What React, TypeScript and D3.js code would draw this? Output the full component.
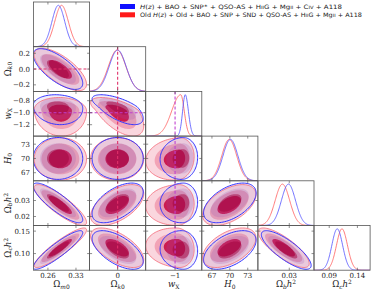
import React from 'react';
import * as d3 from 'd3';

const W = 374;
const H = 291;
const left = 33.5;
const top = 2;
const cellW = 56.1;
const cellH = 44.7;

// axis ranges of the six parameters: Om0, Ok0, wX, H0, Obh2, Och2
const domains: [number, number][] = [
  [0.224, 0.364],
  [-0.283, 0.283],
  [-1.39, -0.645],
  [65.3, 74.7],
  [0.0144, 0.0423],
  [0.063, 0.1625],
];

const xTickValues = [[0.26, 0.33], [0], [-1], [67, 70, 73], [0.03], [0.09, 0.14]];
const xTickLabels = [['0.26', '0.33'], ['0'], ['\u22121'], ['67', '70', '73'], ['0.03'], ['0.09', '0.14']];
const yTickValues = [[], [0.2, 0, -0.2], [-0.8, -1.0, -1.2], [73, 70, 67], [0.03, 0.02], [0.15, 0.1]];
const yTickLabels = [[], ['0.2', '0.0', '\u22120.2'], ['\u22120.8', '\u22121.0', '\u22121.2'], ['73', '70', '67'], ['0.03', '0.02'], ['0.15', '0.10']];

// 1D marginals: peak, spread below, spread above
const newMarg = [[0.286, 0.016, 0.016], [0.0, 0.085, 0.085], [-0.865, 0.035, 0.042], [70.1, 1.25, 1.25], [0.0296, 0.0035, 0.0035], [0.1042, 0.0095, 0.0095]];
const oldMarg = [[0.294, 0.017, 0.017], [-0.005, 0.088, 0.088], [-0.925, 0.12, 0.047], [69.9, 1.25, 1.25], [0.0266, 0.0036, 0.0036], [0.1126, 0.0097, 0.0097]];

// 2D contours: centre, spread below, spread above
const new2D = [[0.285, 0.018, 0.018], [0.0, 0.075, 0.075], [-0.9, 0.087, 0.058], [70.0, 1.28, 1.28], [0.0285, 0.0036, 0.0036], [0.108, 0.0125, 0.0125]];
const old2D = [[0.291, 0.019, 0.019], [-0.005, 0.078, 0.078], [-0.96, 0.125, 0.062], [69.9, 1.3, 1.3], [0.0272, 0.0037, 0.0037], [0.113, 0.0128, 0.0128]];

// correlations, corr[row][col] for row > col
const newCorr = [[], [-0.7], [-0.1, -0.65], [0, 0, 0.05], [-0.85, 0.55, 0.05, 0.5], [0.9, -0.6, -0.05, 0.5, -0.8]];
const oldCorr = [[], [-0.7], [-0.05, -0.6], [0, 0, 0.1], [-0.85, 0.55, 0.05, 0.5], [0.9, -0.6, -0.1, 0.5, -0.8]];

const levels = [3.44, 2.49, 1.52];
const oldFills = ['#fad6de', '#f2a3b6', '#d8103f'];
const newFills = ['#7a6ad0', '#9050b0', '#a0003c'];
const newOpac = [0.12, 0.2, 0.5];

const refLines = [{ p: 1, v: 0, color: '#e0306a' }, { p: 2, v: -1, color: '#c040d0' }];

type Part = { t: string; it?: boolean; sub?: boolean; sup?: boolean; small?: boolean };
const axisNames: Part[][] = [
  [{ t: '\u03A9' }, { t: 'm', it: true, sub: true }, { t: '0', sub: true }],
  [{ t: '\u03A9' }, { t: 'k', it: true, sub: true }, { t: '0', sub: true }],
  [{ t: 'w', it: true }, { t: 'X', sub: true }],
  [{ t: 'H', it: true }, { t: '0', sub: true }],
  [{ t: '\u03A9' }, { t: 'b', it: true, sub: true }, { t: 'h', it: true }, { t: '2', sup: true }],
  [{ t: '\u03A9' }, { t: 'c', it: true, sub: true }, { t: 'h', it: true }, { t: '2', sup: true }],
];

const legendNew: Part[] = [
  { t: 'H', it: true }, { t: '(' }, { t: 'z', it: true }, { t: ') + BAO + SNP' }, { t: '\u2217', sup: true },
  { t: ' + QSO-AS + H' }, { t: 'II', small: true }, { t: 'G + Mg' }, { t: 'II', small: true },
  { t: ' + C' }, { t: 'IV', small: true }, { t: ' + A118' },
];
const legendOld: Part[] = [
  { t: 'Old ' }, { t: 'H', it: true }, { t: '(' }, { t: 'z', it: true }, { t: ') + Old + BAO + SNP + SND + QSO-AS + H' },
  { t: 'II', small: true }, { t: 'G + Mg' }, { t: 'II', small: true }, { t: ' + A118' },
];

function Parts({ parts, size }: { parts: Part[]; size: number }) {
  let cur = 0;
  return (
    <>
      {parts.map((p, k) => {
        const want = p.sub ? size * 0.22 : p.sup ? -size * 0.32 : 0;
        const dy = want - cur;
        cur = want;
        return (
          <tspan
            key={k}
            dy={dy || undefined}
            fontStyle={p.it ? 'italic' : 'normal'}
            fontSize={p.sub || p.sup ? size * 0.7 : p.small ? size * 0.75 : size}
          >
            {p.t}
          </tspan>
        );
      })}
    </>
  );
}

const xScale = (i: number) => d3.scaleLinear().domain(domains[i]).range([left + i * cellW, left + (i + 1) * cellW]);
const yScale = (j: number) => d3.scaleLinear().domain(domains[j]).range([top + (j + 1) * cellH, top + j * cellH]);

function contourPath(stats: number[][], i: number, j: number, rho: number, r: number) {
  const xs = xScale(i);
  const ys = yScale(j);
  const [mx, lx, hx] = stats[i];
  const [my, ly, hy] = stats[j];
  const pts = d3.range(0, 96).map((k) => {
    const t = (k / 96) * 2 * Math.PI;
    const a = Math.cos(t);
    const b = rho * a + Math.sqrt(1 - rho * rho) * Math.sin(t);
    return [xs(mx + r * a * (a < 0 ? lx : hx)), ys(my + r * b * (b < 0 ? ly : hy))] as [number, number];
  });
  return d3.line().curve(d3.curveLinearClosed)(pts) || '';
}

function marginalPath(stats: number[][], i: number) {
  const xs = xScale(i);
  const ys = d3.scaleLinear().domain([0, 1.08]).range([top + (i + 1) * cellH, top + i * cellH]);
  const [m, lo, hi] = stats[i];
  const pts = d3.range(0, 161).map((k) => {
    const x = domains[i][0] + ((domains[i][1] - domains[i][0]) * k) / 160;
    const z = (x - m) / (x < m ? lo : hi);
    return [xs(x), ys(Math.exp(-0.5 * z * z))] as [number, number];
  });
  return d3.line()(pts) || '';
}

export default function App() {
  const serif = "'DejaVu Serif', serif";
  const panels: JSX.Element[] = [];
  const n = domains.length;

  for (let j = 0; j < n; j++) {
    for (let i = 0; i <= j; i++) {
      const xs = xScale(i);
      const ys = yScale(j);
      const x0 = left + i * cellW;
      const y0 = top + j * cellH;
      const clipId = `clip-${i}-${j}`;
      const content: JSX.Element[] = [];
      if (i === j) {
        content.push(<path key="o" d={marginalPath(oldMarg, i)} fill="none" stroke="#ff5a5a" strokeWidth={0.8} />);
        content.push(<path key="n" d={marginalPath(newMarg, i)} fill="none" stroke="#5050ff" strokeWidth={0.8} />);
      } else {
        levels.forEach((r, k) =>
          content.push(<path key={`of${k}`} d={contourPath(old2D, i, j, oldCorr[j][i], r)} fill={oldFills[k]} />)
        );
        levels.forEach((r, k) =>
          content.push(<path key={`nf${k}`} d={contourPath(new2D, i, j, newCorr[j][i], r)} fill={newFills[k]} fillOpacity={newOpac[k]} />)
        );
        content.push(<path key="ol" d={contourPath(old2D, i, j, oldCorr[j][i], levels[0])} fill="none" stroke="#f46a78" strokeWidth={0.8} />);
        content.push(<path key="nl" d={contourPath(new2D, i, j, newCorr[j][i], levels[0])} fill="none" stroke="#3535ff" strokeWidth={1} />);
      }
      // reference lines
      refLines.forEach((rl, k) => {
        if (rl.p === i) {
          content.push(<line key={`rv${k}`} x1={xs(rl.v)} x2={xs(rl.v)} y1={y0} y2={y0 + cellH} stroke={rl.color} strokeWidth={1.1} strokeDasharray="3,2" />);
        }
        if (rl.p === j && i !== j) {
          content.push(<line key={`rh${k}`} x1={x0} x2={x0 + cellW} y1={ys(rl.v)} y2={ys(rl.v)} stroke={rl.color} strokeWidth={1.1} strokeDasharray="3,2" />);
        }
      });
      // ticks
      const ticks: JSX.Element[] = [];
      xTickValues[i].forEach((v, k) => {
        ticks.push(<line key={`xb${k}`} x1={xs(v)} x2={xs(v)} y1={y0 + cellH} y2={y0 + cellH - 2.5} stroke="#444" strokeWidth={0.6} />);
        ticks.push(<line key={`xt${k}`} x1={xs(v)} x2={xs(v)} y1={y0} y2={y0 + 2.5} stroke="#444" strokeWidth={0.6} />);
      });
      if (i !== j) {
        yTickValues[j].forEach((v, k) => {
          ticks.push(<line key={`yl${k}`} x1={x0} x2={x0 + 2.5} y1={ys(v)} y2={ys(v)} stroke="#444" strokeWidth={0.6} />);
          ticks.push(<line key={`yr${k}`} x1={x0 + cellW} x2={x0 + cellW - 2.5} y1={ys(v)} y2={ys(v)} stroke="#444" strokeWidth={0.6} />);
        });
      }
      panels.push(
        <g key={clipId}>
          <clipPath id={clipId}>
            <rect x={x0} y={y0} width={cellW} height={cellH} />
          </clipPath>
          <g clipPath={`url(#${clipId})`}>{content}</g>
          {ticks}
          <rect x={x0} y={y0} width={cellW} height={cellH} fill="none" stroke="#555" strokeWidth={0.8} />
        </g>
      );
    }
  }

  const bottom = top + n * cellH;

  return (
    <svg width={W} height={H} style={{ position: 'absolute', left: 0, top: 0, background: '#fff' }} fontFamily={serif}>
      {panels}
      {/* x tick labels and axis names */}
      {domains.map((_, i) => {
        const xs = xScale(i);
        return (
          <g key={`xa${i}`}>
            {xTickValues[i].map((v, k) => (
              <text key={k} x={xs(v)} y={bottom + 7.3} fontSize={7} textAnchor="middle" fill="#222">
                {xTickLabels[i][k]}
              </text>
            ))}
            <text x={left + (i + 0.5) * cellW} y={bottom + 17} textAnchor="middle" fill="#222">
              <Parts parts={axisNames[i]} size={8.5} />
            </text>
          </g>
        );
      })}
      {/* y tick labels and axis names */}
      {domains.map((_, j) => {
        if (j === 0) return null;
        const ys = yScale(j);
        const cy = top + (j + 0.5) * cellH;
        return (
          <g key={`ya${j}`}>
            {yTickValues[j].map((v, k) => (
              <text key={k} x={30} y={ys(v) + 2.5} fontSize={7} textAnchor="end" fill="#222">
                {yTickLabels[j][k]}
              </text>
            ))}
            <text transform={`translate(10.5,${cy}) rotate(-90)`} textAnchor="middle" fill="#222">
              <Parts parts={axisNames[j]} size={8.5} />
            </text>
          </g>
        );
      })}
      {/* legend */}
      <g fontFamily="'DejaVu Sans', sans-serif" fill="#222">
        <rect x={120} y={4} width={15} height={5} fill="#1010ff" />
        <rect x={120} y={12.3} width={15} height={5} fill="#ff1a1a" />
        <text x={140} y={8.8} textLength={202} lengthAdjust="spacingAndGlyphs">
          <Parts parts={legendNew} size={6} />
        </text>
        <text x={140} y={17} textLength={222} lengthAdjust="spacingAndGlyphs">
          <Parts parts={legendOld} size={6} />
        </text>
      </g>
    </svg>
  );
}
